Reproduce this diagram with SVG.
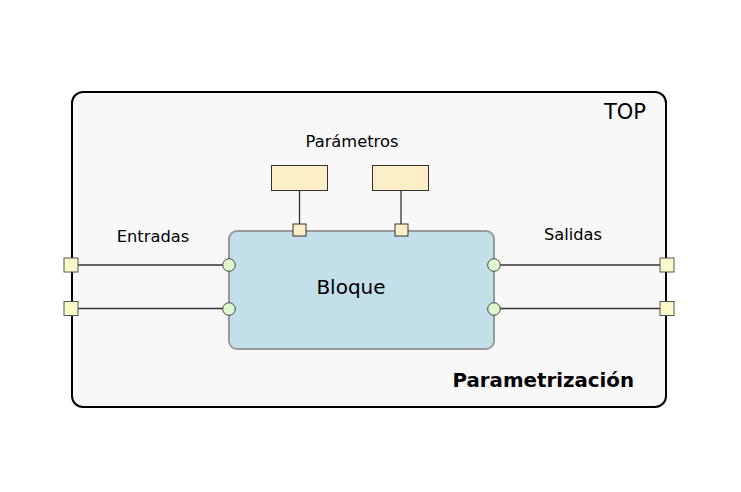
<svg xmlns="http://www.w3.org/2000/svg" width="741" height="492" viewBox="0 0 741 492">
<style>
text{font-family:"DejaVu Sans",sans-serif;fill:#000}
.lbl{font-size:16.3px;text-anchor:middle}
.port{fill:#fafac8;stroke:#555;stroke-width:1}
.pin{fill:#e0f8d0;stroke:#444;stroke-width:1}
.pbox{fill:#fcefc8;stroke:#333;stroke-width:1}
.wire{stroke:#333;stroke-width:1.3;fill:none}
</style>
<rect width="741" height="492" fill="#fff"/>
<g id="top">
<rect x="72" y="92" width="594" height="315" rx="11" fill="#f8f8f8" stroke="#000" stroke-width="2"/>
<text x="646" y="119" font-size="21" text-anchor="end">TOP</text>
<text x="634" y="387" font-size="19.8" font-weight="bold" text-anchor="end">Parametrización</text>
</g>
<g id="labels">
<text class="lbl" x="352" y="147">Parámetros</text>
<text class="lbl" x="153" y="242">Entradas</text>
<text class="lbl" x="573" y="240">Salidas</text>
</g>
<g id="connectors">
<line class="wire" x1="71" y1="265" x2="229" y2="265"/>
<line class="wire" x1="71" y1="308.5" x2="229" y2="308.5"/>
<line class="wire" x1="494" y1="265" x2="667" y2="265"/>
<line class="wire" x1="494" y1="308.5" x2="667" y2="308.5"/>
<line class="wire" x1="299.5" y1="191" x2="299.5" y2="224"/>
<line class="wire" x1="401" y1="191" x2="401" y2="224" stroke="#666"/>
</g>
<g id="bloque">
<rect x="229" y="231" width="265" height="118" rx="8" fill="#c2dfea" stroke="#999" stroke-width="2"/>
<text x="351" y="294" font-size="20" text-anchor="middle">Bloque</text>
</g>
<g id="param1"><rect class="pbox" x="271.5" y="165.5" width="56" height="25"/></g>
<g id="param2"><rect class="pbox" x="372.5" y="165.5" width="56" height="25"/></g>
<g id="pport1"><rect class="pbox" x="293" y="224" width="13" height="12"/></g>
<g id="pport2"><rect class="pbox" x="395" y="224" width="13" height="12"/></g>
<g id="in1"><rect class="port" x="64" y="258" width="14" height="14"/></g>
<g id="in2"><rect class="port" x="64" y="301.5" width="14" height="14"/></g>
<g id="out1"><rect class="port" x="660" y="258" width="14" height="14"/></g>
<g id="out2"><rect class="port" x="660" y="301.5" width="14" height="14"/></g>
<g id="pin-in1"><circle class="pin" cx="229" cy="265" r="6.3"/></g>
<g id="pin-in2"><circle class="pin" cx="229" cy="309" r="6.3"/></g>
<g id="pin-out1"><circle class="pin" cx="494" cy="265" r="6.3"/></g>
<g id="pin-out2"><circle class="pin" cx="494" cy="309" r="6.3"/></g>
</svg>
